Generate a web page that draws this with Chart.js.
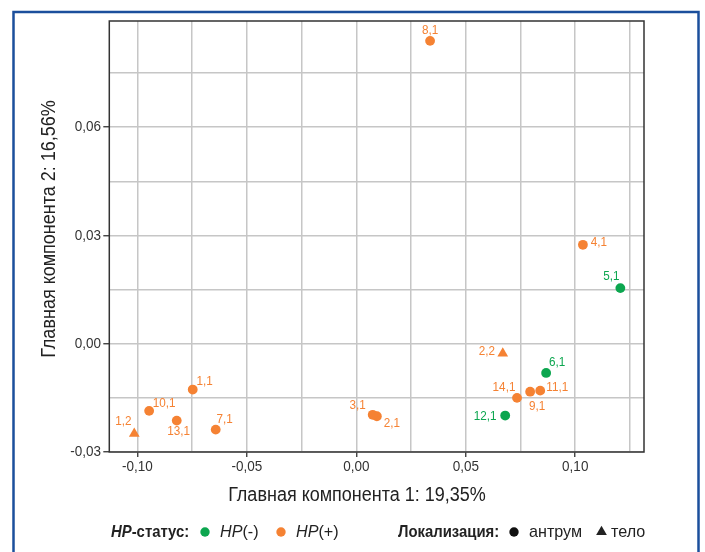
<!DOCTYPE html>
<html>
<head>
<meta charset="utf-8">
<script src="https://cdn.jsdelivr.net/npm/chart.js@4/dist/chart.umd.min.js"></script>
<style>
  html, body { margin: 0; padding: 0; background: #fff; }
  canvas { display: block; }
</style>
</head>
<body>
<canvas id="pca" width="705" height="552"></canvas>
<script>
// Samples (patient,biopsy) and their scores on the first two principal components
const sampleLabels = ['1,1', '1,2', '2,1', '2,2', '3,1', '4,1', '5,1', '6,1',
                      '7,1', '8,1', '9,1', '10,1', '11,1', '12,1', '13,1', '14,1'];
const pc1 = [-0.0747, -0.1014, 0.0094, 0.0669, 0.0075, 0.1035, 0.1206, 0.0867,
             -0.0642, 0.0337, 0.0794, -0.0946, 0.0840, 0.0680, -0.0820, 0.0734];
const pc2 = [-0.0127, -0.0249, -0.0201, -0.0027, -0.0197, 0.0274, 0.0154, -0.0081,
             -0.0238, 0.0839, -0.0133, -0.0186, -0.0130, -0.0199, -0.0213, -0.0150];
const hpStatus = ['+', '+', '+', '+', '+', '+', '-', '-',
                  '+', '+', '+', '+', '+', '-', '+', '+'];
const site = ['антрум', 'тело', 'антрум', 'тело', 'антрум', 'антрум', 'антрум', 'антрум',
              'антрум', 'антрум', 'антрум', 'антрум', 'антрум', 'антрум', 'антрум', 'антрум'];

// Axis ticks: labelled values and the finer grid between them
const xTickValues = [-0.10, -0.05, 0.00, 0.05, 0.10];
const xGridValues = [-0.10, -0.075, -0.05, -0.025, 0.00, 0.025, 0.05, 0.075, 0.10, 0.125];
const yTickValues = [-0.03, 0.00, 0.03, 0.06];
const yGridValues = [-0.03, -0.015, 0.00, 0.015, 0.03, 0.045, 0.06, 0.075];

// Label placement next to each point (px), keeping labels clear of the marks
const labelNudge = [[12, -8], [-11, -12], [15, 7], [-16, -2], [-15, -9], [16, -2], [-9, -12], [11, -11],
                    [9, -10], [0, -10], [7, 15], [15, -7], [17, -3], [-20, 1], [2, 11], [-13, -10]];

const ORANGE = '#F58233';
const GREEN = '#0CA64F';
const TEXT = '#222';
const SANS = '"Liberation Sans", Arial, Helvetica, sans-serif';

const colorOf = i => hpStatus[i] === '+' ? ORANGE : GREEN;
const fmt = v => v.toFixed(2).replace('.', ',');
const isLabelled = (v, list) => list.some(t => Math.abs(t - v) < 1e-9);

// Condensed text: a regular sans face squeezed horizontally
function narrowText(ctx, text, x, y, font, sx, align, rotate) {
  ctx.save();
  ctx.font = font;
  ctx.textBaseline = 'middle';
  ctx.textAlign = align || 'left';
  ctx.translate(x, y);
  if (rotate) ctx.rotate(rotate);
  ctx.scale(sx, 1);
  ctx.fillText(text, 0, 0);
  const w = ctx.measureText(text).width * sx;
  ctx.restore();
  return w;
}

const points = pc1.map((x, i) => ({ x, y: pc2[i] }));

const framePlugin = {
  id: 'frame',
  beforeDraw(chart) {
    const ctx = chart.ctx;
    ctx.save();
    ctx.fillStyle = '#fff';
    ctx.fillRect(0, 0, chart.width, chart.height);
    ctx.strokeStyle = '#1B4F9C';
    ctx.lineWidth = 2.5;
    ctx.strokeRect(13.5, 12, 685, 620);
    ctx.restore();
  },
  beforeDatasetsDraw(chart) {
    const { ctx, chartArea: a } = chart;
    ctx.save();
    ctx.strokeStyle = '#333';
    ctx.lineWidth = 1.5;
    ctx.strokeRect(a.left, a.top, a.right - a.left, a.bottom - a.top);
    ctx.restore();
  }
};

const pointLabelPlugin = {
  id: 'pointLabels',
  afterDatasetsDraw(chart) {
    const ctx = chart.ctx;
    const meta = chart.getDatasetMeta(0);
    meta.data.forEach((pt, i) => {
      const [dx, dy] = labelNudge[i];
      ctx.fillStyle = colorOf(i);
      narrowText(ctx, sampleLabels[i], pt.x + dx, pt.y + dy, '13px ' + SANS, 0.9, 'center');
    });
  }
};

const axisTextPlugin = {
  id: 'axisText',
  afterDraw(chart) {
    const ctx = chart.ctx;
    const { x: xs, y: ys } = chart.scales;
    ctx.fillStyle = '#333';
    const tickFont = '15px ' + SANS;
    xTickValues.forEach(v => narrowText(ctx, fmt(v), xs.getPixelForValue(v), 467, tickFont, 0.9, 'center'));
    yTickValues.forEach(v => narrowText(ctx, fmt(v), 101, ys.getPixelForValue(v), tickFont, 0.9, 'right'));

    ctx.fillStyle = TEXT;
    const titleFont = '20px ' + SANS;
    narrowText(ctx, 'Главная компонента 1: 19,35%', 357, 495, titleFont, 0.9, 'center');
    narrowText(ctx, 'Главная компонента 2: 16,56%', 49, 229, titleFont, 0.9, 'center', -Math.PI / 2);
  }
};

const legendPlugin = {
  id: 'groupLegend',
  afterDraw(chart) {
    const ctx = chart.ctx;
    const y = 532;
    const reg = '17px ' + SANS, ital = 'italic 17px ' + SANS;
    const bold = 'bold 17px ' + SANS, boldItal = 'italic bold 17px ' + SANS;
    const SR = 0.95, SB = 0.875;

    const dot = (x, color) => {
      ctx.fillStyle = color;
      ctx.beginPath();
      ctx.arc(x, y, 4.7, 0, Math.PI * 2);
      ctx.fill();
    };
    const tri = (x) => {
      const r = 6.2;
      ctx.fillStyle = TEXT;
      ctx.beginPath();
      ctx.moveTo(x, y - r);
      ctx.lineTo(x + r * 0.866, y + r * 0.5);
      ctx.lineTo(x - r * 0.866, y + r * 0.5);
      ctx.closePath();
      ctx.fill();
    };

    // HP status group
    ctx.fillStyle = TEXT;
    let x = 111;
    x += narrowText(ctx, 'HP', x, y, boldItal, SB);
    narrowText(ctx, '-статус:', x, y, bold, SB);
    dot(205, GREEN);
    ctx.fillStyle = TEXT;
    x = 220;
    x += narrowText(ctx, 'HP', x, y, ital, SR);
    narrowText(ctx, '(-)', x, y, reg, SR);
    dot(281, ORANGE);
    ctx.fillStyle = TEXT;
    x = 296;
    x += narrowText(ctx, 'HP', x, y, ital, SR);
    narrowText(ctx, '(+)', x, y, reg, SR);

    // Localisation group
    narrowText(ctx, 'Локализация:', 398, y, bold, SB);
    dot(514, '#111');
    ctx.fillStyle = TEXT;
    narrowText(ctx, 'антрум', 529, y, reg, SR);
    tri(601.5);
    narrowText(ctx, 'тело', 611, y, reg, SR);
  }
};

new Chart(document.getElementById('pca'), {
  type: 'scatter',
  data: {
    datasets: [{
      data: points,
      pointStyle: pc1.map((_, i) => site[i] === 'тело' ? 'triangle' : 'circle'),
      pointRadius: pc1.map((_, i) => site[i] === 'тело' ? 6.2 : 4.9),
      backgroundColor: pc1.map((_, i) => colorOf(i)),
      borderColor: pc1.map((_, i) => colorOf(i)),
      borderWidth: 0
    }]
  },
  options: {
    responsive: false,
    animation: false,
    events: [],
    layout: { padding: { left: 0, right: 61, top: 21, bottom: 0 } },
    plugins: { legend: { display: false }, tooltip: { enabled: false } },
    scales: {
      x: {
        type: 'linear',
        min: -0.1128,
        max: 0.1314,
        afterBuildTicks: axis => { axis.ticks = xGridValues.map(v => ({ value: v })); },
        afterFit: axis => { axis.height = 100; },
        border: { display: false },
        grid: {
          color: '#C6C6C6',
          lineWidth: 1.5,
          tickLength: 5,
          tickWidth: 1.3,
          tickColor: c => (c.tick && isLabelled(c.tick.value, xTickValues)) ? '#333' : 'rgba(0,0,0,0)'
        },
        ticks: { display: false, autoSkip: false }
      },
      y: {
        type: 'linear',
        min: -0.03,
        max: 0.0894,
        afterBuildTicks: axis => { axis.ticks = yGridValues.map(v => ({ value: v })); },
        afterFit: axis => { axis.width = 109.3; },
        border: { display: false },
        grid: {
          color: '#C6C6C6',
          lineWidth: 1.5,
          tickLength: 6,
          tickWidth: 1.3,
          tickColor: c => (c.tick && isLabelled(c.tick.value, yTickValues)) ? '#333' : 'rgba(0,0,0,0)'
        },
        ticks: { display: false, autoSkip: false }
      }
    }
  },
  plugins: [framePlugin, pointLabelPlugin, axisTextPlugin, legendPlugin]
});
</script>
</body>
</html>
